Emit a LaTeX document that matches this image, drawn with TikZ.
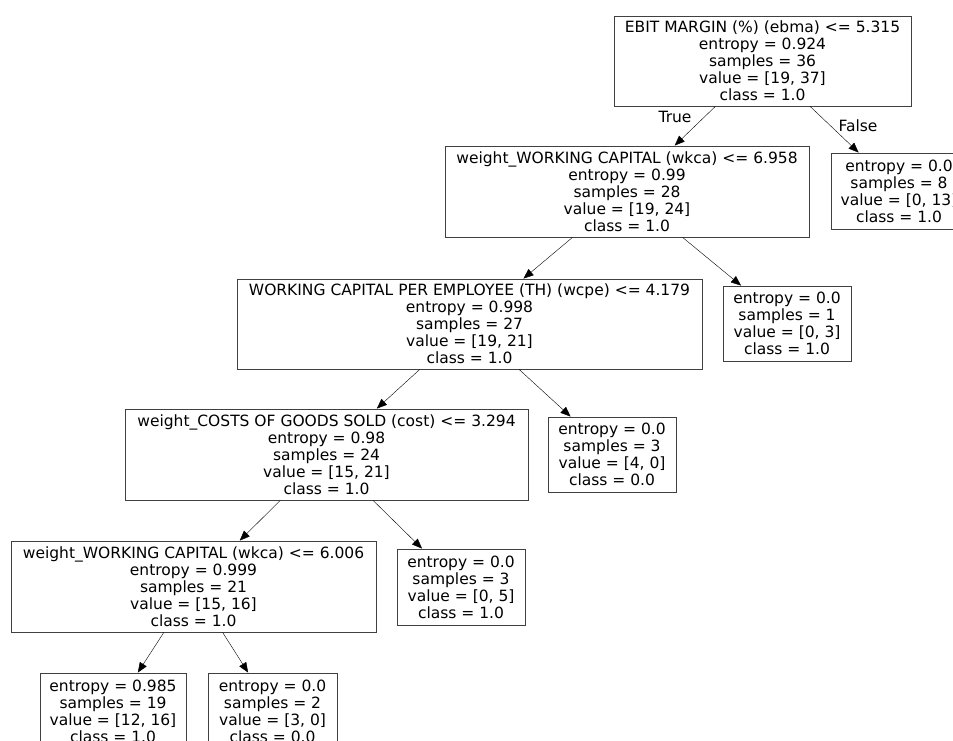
\documentclass[tikz,border=0pt]{standalone}
\usepackage{fontspec}
\setmainfont{DejaVu Sans}
\usetikzlibrary{arrows.meta}

\tikzset{
	split/.style={draw=black!75, line width=0.9pt, rectangle, align=center, inner sep=0pt,
		font=\fontsize{15.5pt}{17pt}\selectfont},
	leaf/.style={split}
}

\begin{document}
\begin{tikzpicture}[x=1pt, y=-1pt, >={Triangle[length=10pt, width=8pt]}]
	\useasboundingbox[fill=white] (0,0) rectangle (953,740);
	\clip (0,0) rectangle (953,740);
	% split nodes
	\node[split, minimum width=297pt, minimum height=90pt] (a) at (762.5,61) {EBIT MARGIN (\%) (ebma) <= 5.315\\entropy = 0.924\\samples = 36\\value = [19, 37]\\class = 1.0};
	\node[split, minimum width=364pt, minimum height=91pt] (b) at (627,191.5) {weight\_WORKING CAPITAL (wkca) <= 6.958\\entropy = 0.99\\samples = 28\\value = [19, 24]\\class = 1.0};
	\node[split, minimum width=465pt, minimum height=90pt] (d) at (469.5,324) {WORKING CAPITAL PER EMPLOYEE (TH) (wcpe) <= 4.179\\entropy = 0.998\\samples = 27\\value = [19, 21]\\class = 1.0};
	\node[split, minimum width=403pt, minimum height=91pt] (f) at (326.5,454.5) {weight\_COSTS OF GOODS SOLD (cost) <= 3.294\\entropy = 0.98\\samples = 24\\value = [15, 21]\\class = 1.0};
	\node[split, minimum width=365pt, minimum height=91pt] (h) at (193.5,586.5) {weight\_WORKING CAPITAL (wkca) <= 6.006\\entropy = 0.999\\samples = 21\\value = [15, 16]\\class = 1.0};
	% leaves
	\node[leaf, minimum width=136pt, minimum height=76pt] (c) at (899,191) {entropy = 0.0\\samples = 8\\value = [0, 13]\\class = 1.0};
	\node[leaf, minimum width=128pt, minimum height=75pt] (e) at (787,323.5) {entropy = 0.0\\samples = 1\\value = [0, 3]\\class = 1.0};
	\node[leaf, minimum width=128pt, minimum height=75pt] (g) at (612,454.5) {entropy = 0.0\\samples = 3\\value = [4, 0]\\class = 0.0};
	\node[leaf, minimum width=128pt, minimum height=76pt] (i) at (461,587) {entropy = 0.0\\samples = 3\\value = [0, 5]\\class = 1.0};
	\node[leaf, minimum width=146pt, minimum height=76pt] (j) at (113,711) {entropy = 0.985\\samples = 19\\value = [12, 16]\\class = 1.0};
	\node[leaf, minimum width=129pt, minimum height=76pt] (k) at (272.5,711) {entropy = 0.0\\samples = 2\\value = [3, 0]\\class = 0.0};
	% edges
	\draw[->] (a) -- (b);
	\draw[->] (a) -- (c);
	\draw[->] (b) -- (d);
	\draw[->] (b) -- (e);
	\draw[->] (d) -- (f);
	\draw[->] (d) -- (g);
	\draw[->] (f) -- (h);
	\draw[->] (f) -- (i);
	\draw[->] (h) -- (j);
	\draw[->] (h) -- (k);
	\node[font=\fontsize{15.5pt}{17pt}\selectfont] (t) at (675,117) {True};
	\node[font=\fontsize{15.5pt}{17pt}\selectfont] (u) at (858,126) {False};
\end{tikzpicture}
\end{document}
